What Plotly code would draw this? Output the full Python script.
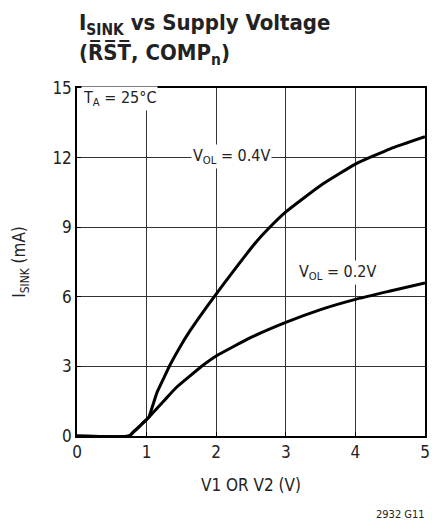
import plotly.graph_objects as go

# V_OL = 0.4V curve
v04_x = [0, 0.75, 0.82, 0.9, 0.96, 1.03, 1.08, 1.15, 1.25, 1.34, 1.48, 1.62, 1.8, 1.97, 2.25, 2.59, 2.77, 3.0, 3.5, 4.0, 4.5, 5.0]
v04_y = [0, 0, 0.2, 0.42, 0.6, 0.8, 1.24, 1.88, 2.52, 3.08, 3.84, 4.52, 5.3, 6.0, 7.12, 8.42, 9.0, 9.66, 10.8, 11.72, 12.38, 12.9]

# V_OL = 0.2V curve
v02_x = [0, 0.75, 0.82, 0.9, 0.96, 1.03, 1.25, 1.43, 1.62, 1.81, 2.0, 2.5, 3.0, 3.5, 4.0, 4.5, 5.0]
v02_y = [0, 0, 0.2, 0.42, 0.6, 0.8, 1.52, 2.1, 2.58, 3.05, 3.45, 4.25, 4.9, 5.45, 5.89, 6.25, 6.6]

x_ticks = [0, 1, 2, 3, 4, 5]
y_ticks = [0, 3, 6, 9, 12, 15]

FONT = "DejaVu Sans Condensed, Liberation Sans Narrow, Roboto Condensed, Roboto, sans-serif"

fig = go.Figure()
fig.add_trace(go.Scatter(x=v04_x, y=v04_y, mode="lines", line=dict(color="black", width=3, shape="spline", smoothing=0.4), showlegend=False))
fig.add_trace(go.Scatter(x=v02_x, y=v02_y, mode="lines", line=dict(color="black", width=3, shape="spline", smoothing=0.4), showlegend=False))

axis_common = dict(showgrid=True, gridcolor="#333333", gridwidth=1.2, showline=True, linecolor="black", linewidth=1.5,
                   mirror=True, ticks="inside", ticklen=4, tickcolor="black", zeroline=False,
                   ticklabeloverflow="allow",
                   tickfont=dict(family=FONT, size=17, color="#222222"))

fig.update_xaxes(range=[0, 5], tickvals=x_ticks, ticktext=[str(t) for t in x_ticks],
                 title=dict(text="V1 OR V2 (V)", font=dict(family=FONT, size=17, color="#222222"), standoff=18),
                 **axis_common)
fig.update_yaxes(range=[0, 15], tickvals=y_ticks, ticktext=[str(t) for t in y_ticks],
                 title=dict(text="I<sub>SINK</sub> (mA)", font=dict(family=FONT, size=17, color="#222222"), standoff=22),
                 **axis_common)

annos = [
    dict(text="I<sub>SINK</sub> vs Supply Voltage", x=0, y=1.183, xanchor="left", yanchor="middle",
         font=dict(family=FONT, size=22, color="#222222", weight="bold")),
    dict(text="(R\u0305S\u0305T\u0305, COMP<sub>n</sub>)", x=0, y=1.097, xanchor="left", yanchor="middle",
         font=dict(family=FONT, size=22, color="#222222", weight="bold")),
    dict(text="T<sub>A</sub> = 25°C", x=0.012, y=0.97, xanchor="left", yanchor="middle",
         font=dict(family=FONT, size=16, color="#222222"), bgcolor="white"),
    dict(text="V<sub>OL</sub> = 0.4V", x=0.327, y=0.802, xanchor="left", yanchor="middle",
         font=dict(family=FONT, size=16, color="#222222"), bgcolor="white"),
    dict(text="V<sub>OL</sub> = 0.2V", x=0.632, y=0.47, xanchor="left", yanchor="middle",
         font=dict(family=FONT, size=16, color="#222222"), bgcolor="white"),
    dict(text="2932 G11", x=0.93, y=-0.225, xanchor="center", yanchor="middle",
         font=dict(family=FONT, size=11, color="#222222")),
]
for a in annos:
    fig.add_annotation(xref="paper", yref="paper", showarrow=False, **a)

fig.update_layout(width=432, height=523, margin=dict(l=77, r=2, t=88, b=87),
                  paper_bgcolor="white", plot_bgcolor="white")

# remove the browser's default body margin so the figure fills the window exactly
fig.write_html("out.html", config={"displayModeBar": False},
               post_script="document.body.style.margin='0';document.body.style.overflow='hidden';")
